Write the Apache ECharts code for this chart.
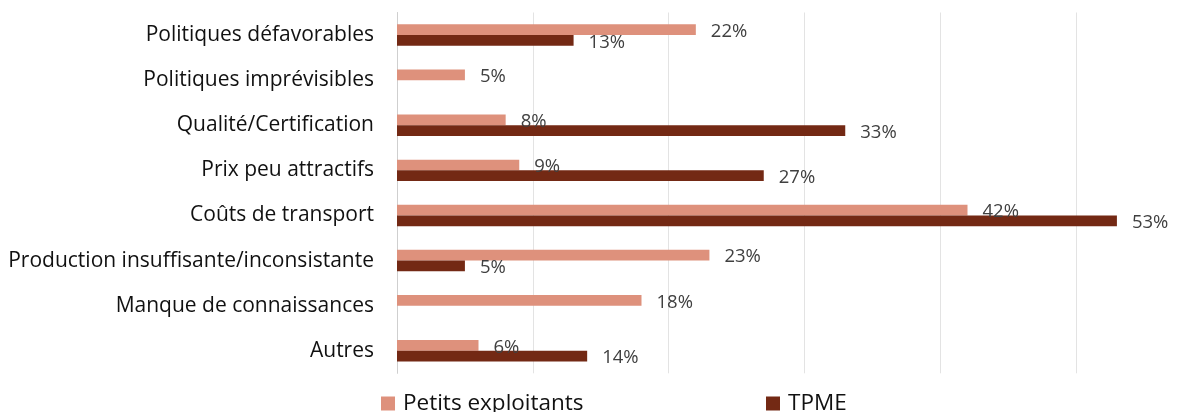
<!DOCTYPE html>
<html><head><meta charset="utf-8">
<script src="https://cdn.jsdelivr.net/npm/echarts@6/dist/echarts.min.js"></script>
<style>html,body{margin:0;padding:0;background:#fff}#c{width:1198px;height:412px}</style>
</head><body><div id="c"></div>
<script>
const categories = ["Politiques défavorables","Politiques imprévisibles","Qualité/Certification","Prix peu attractifs","Coûts de transport","Production insuffisante/inconsistante","Manque de connaissances","Autres"];
const petitsExploitants = [22, 5, 8, 9, 42, 23, 18, 6];
const tpme = [13, null, 33, 27, 53, 5, null, 14];
const seriesNames = ["Petits exploitants", "TPME"];
const colors = ["#DE917C", "#732914"];
const FONT = "Open Sans";

const chart = echarts.init(document.getElementById('c'));
const labelCfg = {
  show: true, position: 'right', distance: 15, offset: [0, 2],
  color: '#404040', fontSize: 18.5, fontFamily: FONT,
  formatter: p => p.value == null ? '' : p.value + '%'
};
const legendText = { fontSize: 22.5, color: '#111', fontFamily: FONT, padding: [9, 0, 0, 3] };
chart.setOption({
  animation: false,
  textStyle: { fontFamily: FONT },
  grid: { left: 397, width: 815, top: 12.5, height: 360.8, containLabel: false, outerBoundsMode: 'none' },
  xAxis: {
    type: 'value', min: 0, max: 60, interval: 10,
    axisLabel: { show: false }, axisTick: { show: false }, axisLine: { show: false },
    splitLine: { show: true, lineStyle: { color: '#e3e3e3', width: 1 } }
  },
  yAxis: {
    type: 'category', data: categories, inverse: true,
    axisTick: { show: false },
    axisLine: { show: true, lineStyle: { color: '#cfcfcf', width: 1 } },
    axisLabel: { color: '#111', fontSize: 21, fontFamily: FONT, margin: 23 }
  },
  legend: [
    { data: [seriesNames[0]], left: 381, top: 392, padding: 0, itemWidth: 14, itemHeight: 14, icon: 'rect',
      textStyle: legendText },
    { data: [seriesNames[1]], left: 766, top: 392, padding: 0, itemWidth: 14, itemHeight: 14, icon: 'rect',
      textStyle: legendText }
  ],
  series: [
    { name: seriesNames[0], type: 'bar', data: petitsExploitants, barWidth: 10.7, barGap: '0%',
      itemStyle: { color: colors[0] }, label: labelCfg },
    { name: seriesNames[1], type: 'bar', data: tpme, barWidth: 10.7, barGap: '0%',
      itemStyle: { color: colors[1] }, label: labelCfg }
  ]
});
</script></body></html>
